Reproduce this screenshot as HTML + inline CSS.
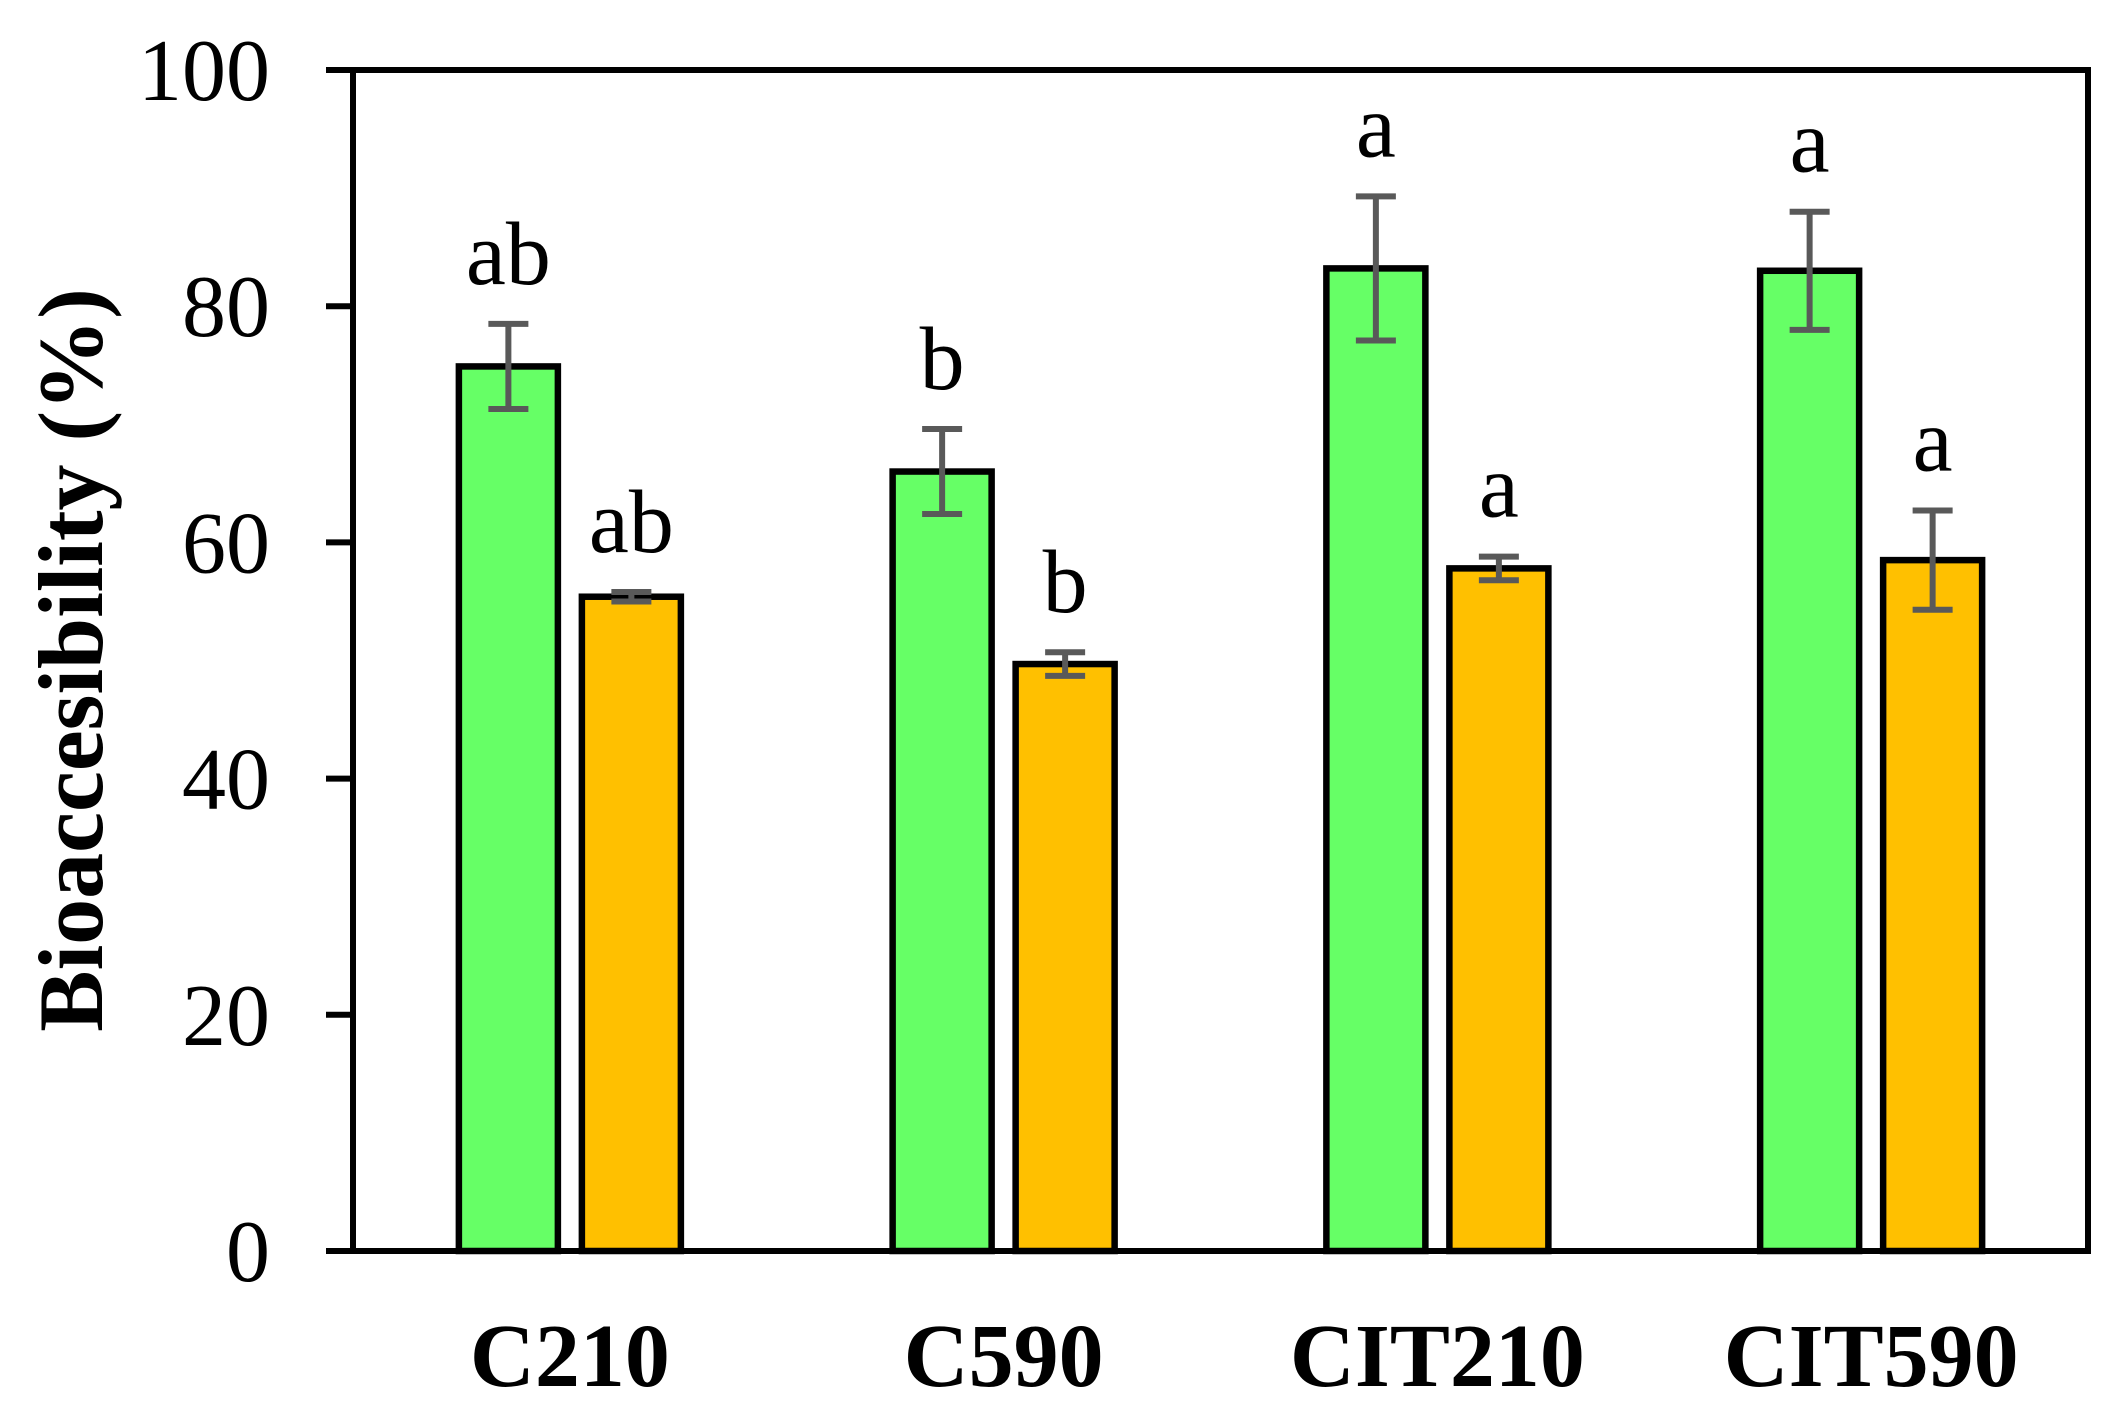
<!DOCTYPE html>
<html><head><meta charset="utf-8"><style>
body{margin:0;background:#fff}
svg{display:block;font-family:"Liberation Serif",serif}
</style></head><body>
<svg id="chart" width="2120" height="1422" viewBox="0 0 2120 1422"></svg>
<script>
const categories=["C210","C590","CIT210","CIT590"];
const greenValues=[74.9,66.0,83.2,83.0];
const greenErrors=[3.6,3.6,6.1,5.0];
const greenLetters=["ab","b","a","a"];
const orangeValues=[55.4,49.7,57.8,58.5];
const orangeErrors=[0.4,1.0,1.0,4.2];
const orangeLetters=["ab","b","a","a"];
const yTicks=[0,20,40,60,80,100];

const NS="http://www.w3.org/2000/svg";
const svg=document.getElementById('chart');
const L=353,R=2088,T=70,B=1251,yMax=100;
const y=v=>B-(B-T)*v/yMax;
const groupW=(R-L)/categories.length;
const xc=i=>L+groupW*(i+0.5);
const barW=99,gap=24;
function el(tag,attrs,parent){const e=document.createElementNS(NS,tag);for(const k in attrs)e.setAttribute(k,attrs[k]);(parent||svg).appendChild(e);return e;}

yTicks.forEach(t=>{
  const tk=el('line',{x1:326,x2:L,y1:y(t),y2:y(t),stroke:'#000','stroke-width':6});
  
  
  const tx=el('text',{x:270,y:y(t)+30,'text-anchor':'end','font-size':88});
  tx.textContent=t;
  
  
});

function drawBar(i,v,e,letter,cx,fill,name){
  const g=el('g',{});
  
  
  el('rect',{x:cx-barW/2,y:y(v),width:barW,height:B-y(v),fill:fill,stroke:'#000','stroke-width':6.5},g);
  const eg=el('g',{stroke:'#595959','stroke-width':6},g);
  
  
  el('line',{x1:cx,x2:cx,y1:y(v+e),y2:y(v-e)},eg);
  el('line',{x1:cx-20,x2:cx+20,y1:y(v+e),y2:y(v+e)},eg);
  el('line',{x1:cx-20,x2:cx+20,y1:y(v-e),y2:y(v-e)},eg);
  const t=el('text',{x:cx,y:y(v+e)-40,'text-anchor':'middle','font-size':90});
  t.textContent=letter;
  
  
}
categories.forEach((c,i)=>{
  const cx=xc(i);
  drawBar(i,greenValues[i],greenErrors[i],greenLetters[i],cx-(barW+gap)/2,'#66ff66','green-bar-'+c.toLowerCase());
  drawBar(i,orangeValues[i],orangeErrors[i],orangeLetters[i],cx+(barW+gap)/2,'#ffc000','orange-bar-'+c.toLowerCase());
  const t=el('text',{x:cx,y:1386,'text-anchor':'middle','font-size':90,'font-weight':'bold'});
  t.textContent=c;
  
  
});

const fr=el('rect',{x:L,y:T,width:R-L,height:B-T,fill:'none',stroke:'#000','stroke-width':6});



const yt=el('text',{x:0,y:0,'text-anchor':'middle','font-size':92,'font-weight':'bold',transform:'translate(102,660) rotate(-90)'});
yt.textContent='Bioaccesibility (%)';


</script>
</body></html>
